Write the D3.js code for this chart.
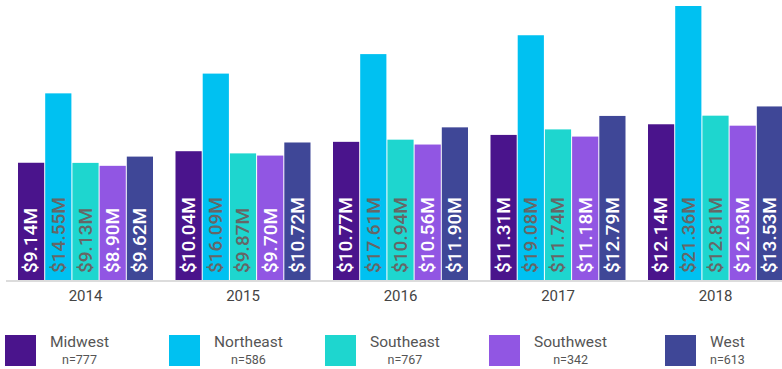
<!DOCTYPE html>
<html>
<head>
<meta charset="utf-8">
<script src="https://cdn.jsdelivr.net/npm/d3@7/dist/d3.min.js"></script>
<style>
  html, body { margin: 0; padding: 0; background: #fff; }
  svg { display: block; font-family: Roboto, "Noto Sans", sans-serif; }
</style>
</head>
<body>
<svg id="chart" width="782" height="369"></svg>
<script>
const years = ["2014", "2015", "2016", "2017", "2018"];
const regions = ["Midwest", "Northeast", "Southeast", "Southwest", "West"];
const counts = ["n=777", "n=586", "n=767", "n=342", "n=613"];
const midwest   = [9.14, 10.04, 10.77, 11.31, 12.14];
const northeast = [14.55, 16.09, 17.61, 19.08, 21.36];
const southeast = [9.13, 9.87, 10.94, 11.74, 12.81];
const southwest = [8.90, 9.70, 10.56, 11.18, 12.03];
const west      = [9.62, 10.72, 11.90, 12.79, 13.53];
const seriesValues = [midwest, northeast, southeast, southwest, west];

const colors = ["#4a148c", "#00c1f1", "#1ed6cf", "#9156e3", "#3f4797"];
const labelColors = ["#ffffff", "#666666", "#666666", "#ffffff", "#ffffff"];
const legendX = [5, 169, 325, 489, 665];

const svg = d3.select("#chart");
const baseY = 280, topY = 6;

const x0 = d3.scaleBand().domain(years).range([6.75, 794.25])
  .paddingInner(1 / 7).paddingOuter(1 / 14);
const x1 = d3.scaleBand().domain(regions).range([0, x0.bandwidth()])
  .paddingInner(1 / 27).paddingOuter(0);
const y = d3.scaleLinear().domain([0, d3.max(northeast)]).range([baseY, topY]);

// axis
const xAxis = d3.axisBottom(x0).tickSize(0).tickPadding(10);
const gAxis = svg.append("g").attr("transform", `translate(0,${baseY})`).call(xAxis);
gAxis.select(".domain").remove();
gAxis.selectAll("text").attr("font-size", 15).attr("fill", "#444")
  .attr("font-family", "Roboto, sans-serif");
svg.append("line").attr("x1", 6).attr("x2", 782).attr("y1", baseY + 1).attr("y2", baseY + 1)
  .attr("stroke", "#dcdcdc").attr("stroke-width", 2);

const data = [];
years.forEach((yr, i) => {
  regions.forEach((r, j) => {
    data.push({ year: yr, region: r, j, value: seriesValues[j][i] });
  });
});

const bars = svg.append("g");
bars.selectAll("rect").data(data).join("rect")
  .attr("x", d => x0(d.year) + x1(d.region))
  .attr("y", d => y(d.value))
  .attr("width", x1.bandwidth())
  .attr("height", d => baseY - y(d.value))
  .attr("fill", d => colors[d.j]);

bars.selectAll("text").data(data).join("text")
  .attr("transform", d => {
    const cx = x0(d.year) + x1(d.region) + x1.bandwidth() / 2;
    return `translate(${cx - 0.5},${baseY - 7}) rotate(-90)`;
  })
  .attr("dy", "0.36em")
  .attr("font-size", 19)
  .attr("font-weight", 500)
  .attr("fill", d => labelColors[d.j])
  .text(d => "$" + d.value.toFixed(2) + "M");

// legend
const lg = svg.append("g");
regions.forEach((r, j) => {
  const g = lg.append("g").attr("transform", `translate(${legendX[j]},335)`);
  g.append("rect").attr("width", 31).attr("height", 31).attr("fill", colors[j]);
  const tw = r.length; // placeholder
  const label = g.append("text").attr("y", 12).attr("font-size", 15.5)
    .attr("fill", "#555").attr("text-anchor", "middle").text(r);
  const n = g.append("text").attr("y", 29).attr("font-size", 12.5)
    .attr("fill", "#555").attr("text-anchor", "middle").text(counts[j]);
  const w = Math.max(label.node().getComputedTextLength(), n.node().getComputedTextLength());
  const cx = 31 + 14 + w / 2;
  label.attr("x", cx);
  n.attr("x", cx);
});
</script>
</body>
</html>
